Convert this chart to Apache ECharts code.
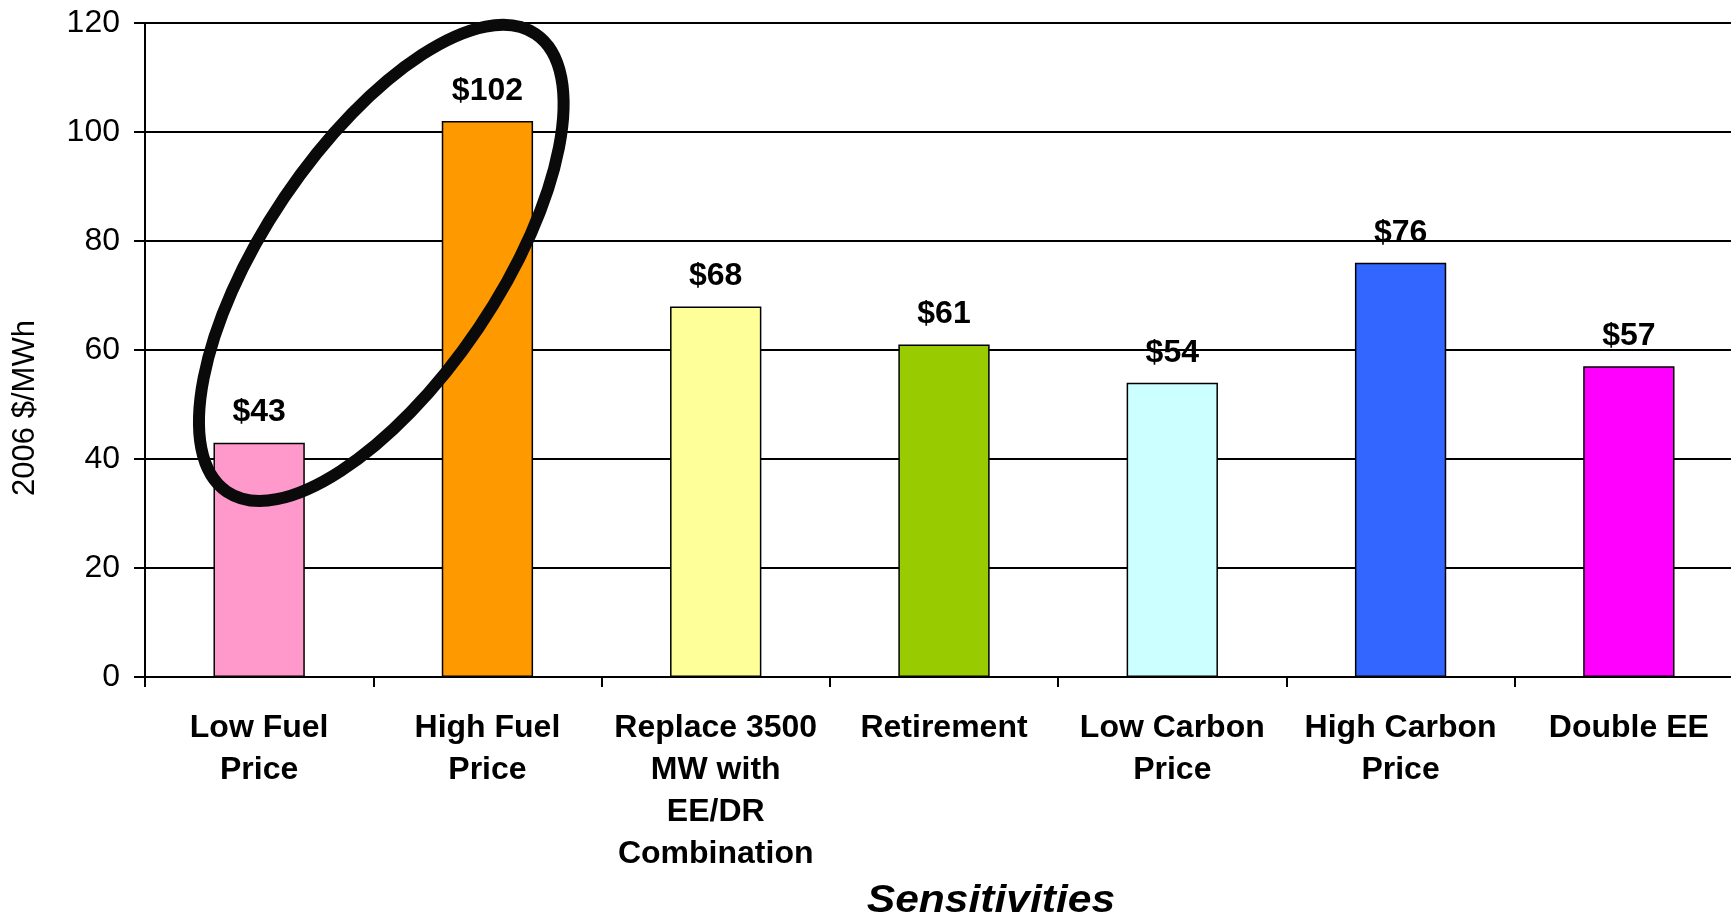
<!DOCTYPE html>
<html>
<head>
<meta charset="utf-8">
<script src="https://cdn.jsdelivr.net/npm/echarts@6/dist/echarts.min.js"></script>
<style>
  html, body { margin: 0; padding: 0; background: #ffffff; overflow: hidden; }
  /* the plot area runs slightly past the right edge of the window */
  #chart { width: 1747px; height: 918px; }
</style>
</head>
<body>
<div id="chart"></div>
<script>
// Wholesale price by sensitivity case
var categories = [
  'Low Fuel\nPrice',
  'High Fuel\nPrice',
  'Replace 3500\nMW with\nEE/DR\nCombination',
  'Retirement',
  'Low Carbon\nPrice',
  'High Carbon\nPrice',
  'Double EE'
];
var prices = [43, 102, 68, 61, 54, 76, 57];
var barColors = ['#FF99CC', '#FF9900', '#FFFF99', '#99CC00', '#CCFFFF', '#3366FF', '#FF00FF'];
var yTicks = { min: 0, max: 120, interval: 20 };
var yAxisTitle = '2006 $/MWh';
var xAxisTitle = 'Sensitivities';

var FONT = '"Liberation Sans", Arial, Helvetica, sans-serif';

var chart = echarts.init(document.getElementById('chart'), null, { renderer: 'canvas' });

chart.setOption({
  backgroundColor: '#ffffff',
  animation: false,
  grid: { left: 145, top: 23, right: 4, bottom: 241, containLabel: false },
  xAxis: {
    type: 'category',
    data: categories,
    boundaryGap: true,
    axisLine: { show: true, lineStyle: { color: '#000000', width: 2 } },
    axisTick: { show: true, alignWithLabel: false, length: 10, lineStyle: { color: '#000000', width: 2 } },
    axisLabel: {
      interval: 0,
      margin: 30,
      color: '#000000',
      fontFamily: FONT,
      fontWeight: 'bold',
      fontSize: 32,
      lineHeight: 42,
      align: 'center'
    },
    splitLine: { show: false }
  },
  yAxis: {
    type: 'value',
    min: yTicks.min,
    max: yTicks.max,
    interval: yTicks.interval,
    axisLine: { show: true, lineStyle: { color: '#000000', width: 2 } },
    axisTick: { show: true, length: 11, lineStyle: { color: '#000000', width: 2 } },
    axisLabel: {
      margin: 25,
      color: '#000000',
      fontFamily: FONT,
      fontSize: 32
    },
    splitLine: { show: true, lineStyle: { color: '#000000', width: 2 } }
  },
  series: [{
    type: 'bar',
    data: prices.map(function (v, i) {
      return { value: v, itemStyle: { color: barColors[i] } };
    }),
    barWidth: '40%',
    itemStyle: { borderColor: '#000000', borderWidth: 1.5 },
    label: {
      show: true,
      position: 'top',
      distance: 14,
      color: '#000000',
      fontFamily: FONT,
      fontWeight: 'bold',
      fontSize: 32,
      formatter: function (p) { return '$' + p.value; }
    },
    z: 3
  }]
});

// Axis titles and the highlight ring around the two fuel-price cases
var p0 = chart.convertToPixel({ seriesIndex: 0 }, [0, prices[0]]);
var p1 = chart.convertToPixel({ seriesIndex: 0 }, [1, prices[1]]);
var ringCx = (p0[0] + p1[0]) / 2 + 8;
var ringCy = (p0[1] + p1[1]) / 2 - 19;

chart.setOption({
  graphic: [
    {
      type: 'text',
      x: 25,
      y: 408,
      rotation: Math.PI / 2,
      style: {
        text: yAxisTitle,
        fill: '#000000',
        font: '31px ' + FONT,
        align: 'center',
        verticalAlign: 'middle'
      },
      z: 10
    },
    {
      type: 'text',
      x: 991,
      y: 902,
      scaleX: 1.12,
      style: {
        text: xAxisTitle,
        fill: '#000000',
        font: 'italic bold 38px ' + FONT,
        align: 'center',
        verticalAlign: 'middle'
      },
      z: 10
    },
    {
      type: 'ellipse',
      x: ringCx,
      y: ringCy,
      rotation: 56 * Math.PI / 180,
      shape: { cx: 0, cy: 0, rx: 276, ry: 117 },
      style: { fill: null, stroke: '#0a0a0a', lineWidth: 12 },
      z: 20
    }
  ]
});
</script>
</body>
</html>
